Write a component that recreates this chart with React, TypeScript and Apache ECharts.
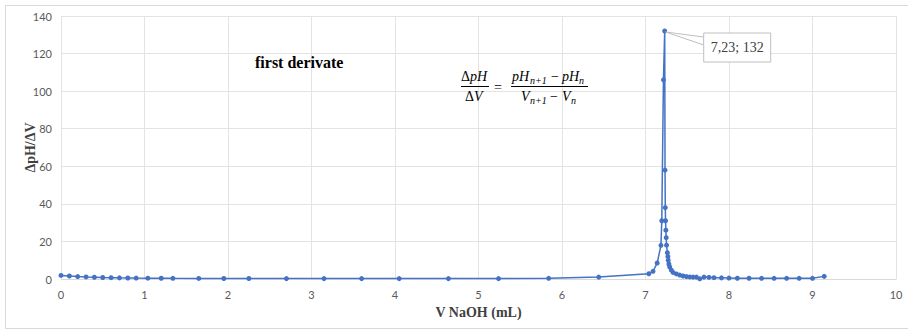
import React, { useEffect, useRef } from "react";
import * as echarts from "echarts";

const volumeML = [
  0, 0.1, 0.2, 0.3, 0.4, 0.5, 0.6, 0.7, 0.8, 0.9, 1.04, 1.2, 1.34, 1.65, 1.95, 2.25, 2.7, 3.15, 3.6, 4.05, 4.64,
  5.24, 5.84, 6.44, 7.04, 7.09, 7.14, 7.185, 7.195, 7.215, 7.23, 7.234, 7.237, 7.24, 7.244, 7.248, 7.252, 7.262,
  7.268, 7.272, 7.28, 7.29, 7.31, 7.33, 7.37, 7.41, 7.45, 7.49, 7.53, 7.57, 7.61, 7.65, 7.7, 7.76, 7.82, 7.91, 8.0,
  8.1, 8.24, 8.39, 8.54, 8.69, 8.84, 9.0, 9.14,
];
const dpHdV = [
  1.9, 1.6, 1.3, 1.1, 0.95, 0.8, 0.7, 0.6, 0.55, 0.5, 0.45, 0.4, 0.35, 0.3, 0.25, 0.25, 0.2, 0.2, 0.2, 0.2, 0.2,
  0.2, 0.35, 1.0, 2.8, 4.1, 8.5, 17.9, 31, 106, 132, 58, 38, 31, 26, 22, 18, 14,
  12, 10, 8, 6.4, 4.7, 3.5, 2.7, 2.1, 1.6, 1.3, 1.1, 1.0, 1.0, 0.1, 1.0, 0.9, 0.7, 0.6, 0.5,
  0.4, 0.4, 0.35, 0.35, 0.35, 0.35, 0.35, 1.4,
];
const xTicks = [0, 10, 1];
const yTicks = [0, 140, 20];
const titleText = "first derivate";
const xName = "V NaOH (mL)";
const yName = "ΔpH/ΔV";

export default function App() {
  const ref = useRef<HTMLDivElement>(null);
  useEffect(() => {
    if (!ref.current) return;
    const chart = echarts.init(ref.current, undefined, { renderer: "svg" });
    const data = volumeML.map((v, i) => [v, dpHdV[i]]);
    const labelFont = "Lato, 'Open Sans', sans-serif";
    const serif = "'Liberation Serif', 'DejaVu Serif', serif";
    chart.setOption({
      animation: false,
      backgroundColor: "#ffffff",
      grid: { left: 61, right: 12, top: 16, bottom: 51, containLabel: false },
      xAxis: {
        type: "value",
        min: xTicks[0],
        max: xTicks[1],
        interval: xTicks[2],
        name: xName,
        nameLocation: "middle",
        nameGap: 26,
        nameTextStyle: { fontFamily: serif, fontWeight: "bold", fontSize: 14, color: "#404040" },
        axisLine: { show: true, lineStyle: { color: "#d9d9d9" } },
        axisTick: { show: false },
        axisLabel: { color: "#595959", fontSize: 11, fontFamily: labelFont, margin: 10 },
        splitLine: { show: true, lineStyle: { color: "#e3e3e3" } },
      },
      yAxis: {
        type: "value",
        min: yTicks[0],
        max: yTicks[1],
        interval: yTicks[2],
        name: yName,
        nameLocation: "middle",
        nameGap: 24,
        nameMoveOverlap: false,
        nameRotate: 90,
        nameTextStyle: { fontFamily: serif, fontWeight: "bold", fontSize: 14, color: "#404040" },
        axisLine: { show: false },
        axisTick: { show: false },
        axisLabel: { color: "#595959", fontSize: 11, fontFamily: labelFont, margin: 9 },
        splitLine: { show: true, lineStyle: { color: "#e3e3e3" } },
      },
      series: [
        {
          type: "line",
          data,
          symbol: "circle",
          symbolSize: 5,
          itemStyle: { color: "#4472C4" },
          lineStyle: { color: "#4472C4", width: 1.5 },
        },
      ],
    });

    let peakIdx = 0;
    dpHdV.forEach((v, i) => {
      if (v > dpHdV[peakIdx]) peakIdx = i;
    });
    const peak = chart.convertToPixel({ gridIndex: 0 }, [volumeML[peakIdx], dpHdV[peakIdx]]) as number[];
    const bx = peak[0] + 39;
    const by = peak[1] + 2;
    const bw = 67;
    const bh = 29;
    const peakLabel = `${String(volumeML[peakIdx]).replace(".", ",")}; ${dpHdV[peakIdx]}`;
    const fx = "'Liberation Serif', 'DejaVu Serif', serif";
    const t = (x: number, y: number, text: string, font: string, align = "left") => ({
      type: "text",
      x,
      y,
      style: { text, fill: "#000", font, align, verticalAlign: "middle" },
    });
    const big = "italic 14px " + fx;
    const up = "14px " + fx;
    const sub = "italic 10px " + fx;

    chart.setOption({
      graphic: [
        { type: "rect", shape: { x: 5.5, y: 5.5, width: 920, height: 323 }, style: { fill: "none", stroke: "#d9d9d9", lineWidth: 1 }, silent: true },
        {
          type: "polygon",
          shape: { points: [[peak[0] + 1, peak[1] + 1], [bx, by + 4], [bx, by + 12]] },
          style: { fill: "#ffffff", stroke: "#bfbfbf", lineWidth: 1 },
          z: 10,
        },
        {
          type: "rect",
          shape: { x: bx, y: by, width: bw, height: bh },
          style: { fill: "#ffffff", stroke: "#bfbfbf", lineWidth: 1 },
          z: 11,
        },
        { type: "rect", shape: { x: bx + 0.8, y: by + 4.5, width: 2, height: 7 }, style: { fill: "#ffffff" }, z: 12 },
        {
          type: "text",
          x: bx + bw / 2,
          y: by + bh / 2,
          style: { text: peakLabel, fill: "#404040", font: "14px 'Liberation Serif', serif", align: "center", verticalAlign: "middle" },
          z: 13,
        },
        {
          type: "text",
          x: 255,
          y: 62,
          style: { text: titleText, fill: "#000000", font: "bold 16px 'Liberation Serif', serif", align: "left", verticalAlign: "middle" },
        },
        {
          type: "group",
          x: 0,
          y: 0,
          children: [
            t(461, 76, "Δ", up),
            t(470, 76, "pH", big),
            { type: "line", shape: { x1: 461, y1: 86.5, x2: 489, y2: 86.5 }, style: { stroke: "#000", lineWidth: 1 } },
            t(465, 96, "Δ", up),
            t(474, 96, "V", big),
            t(498, 87, "=", up, "center"),
            t(512, 76, "pH", big),
            t(530, 80, "n+1", sub),
            t(555, 76, "−", up, "center"),
            t(562, 76, "pH", big),
            t(579, 80, "n", sub),
            { type: "line", shape: { x1: 511, y1: 86.5, x2: 588, y2: 86.5 }, style: { stroke: "#000", lineWidth: 1 } },
            t(521, 96, "V", big),
            t(530, 100, "n+1", sub),
            t(554, 96, "−", up, "center"),
            t(562, 96, "V", big),
            t(571, 100, "n", sub),
          ],
        },
      ],
    });
    return () => chart.dispose();
  }, []);
  return <div ref={ref} style={{ position: "absolute", left: 0, top: 0, width: 908, height: 330 }} />;
}
